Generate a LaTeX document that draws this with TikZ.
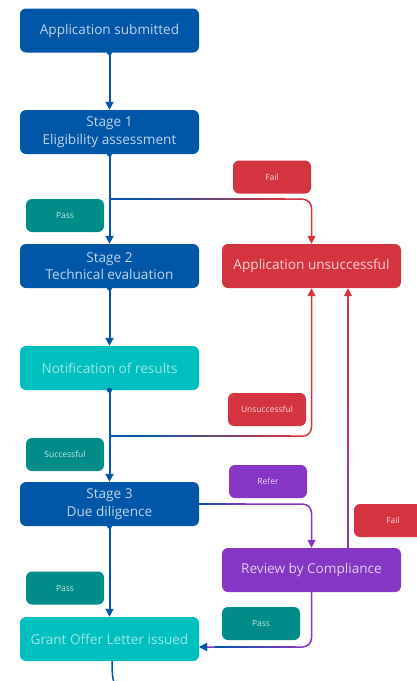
\documentclass[tikz,border=0pt]{standalone}
\usepackage{fontspec}
\setmainfont{Open Sans}
\usetikzlibrary{arrows.meta}
\definecolor{cblue}{HTML}{0057A8}
\definecolor{cred}{HTML}{D3343F}
\definecolor{cteal}{HTML}{008C88}
\definecolor{ccyan}{HTML}{00BFBF}
\definecolor{cpurple}{HTML}{8536C2}
\newcommand\gradH[6]{%
  \foreach \i in {0,...,23}{%
    \pgfmathsetmacro\xa{#1+(#2-#1)*\i/24}%
    \pgfmathsetmacro\xb{#1+(#2-#1)*(\i+1)/24}%
    \pgfmathsetmacro\pc{100*(\i+0.5)/24}%
    \draw[line width=#6, line cap=round, color=#5!\pc!#4] (\xa,#3) -- (\xb,#3);
  }}
\newcommand\gradV[6]{%
  \foreach \i in {0,...,23}{%
    \pgfmathsetmacro\ya{#1+(#2-#1)*\i/24}%
    \pgfmathsetmacro\yb{#1+(#2-#1)*(\i+1)/24}%
    \pgfmathsetmacro\pc{100*(\i+0.5)/24}%
    \draw[line width=#6, line cap=round, color=#5!\pc!#4] (#3,\ya) -- (#3,\yb);
  }}
\begin{document}
\begin{tikzpicture}[x=1pt,y=-1pt,
  box/.style={rounded corners=6pt, minimum width=179pt, minimum height=44pt,
    inner sep=0pt, align=center, font=\fontsize{13.6}{17.5}\selectfont},
  lbl/.style={rounded corners=6pt, minimum width=78pt, minimum height=33pt,
    inner sep=0pt, font=\fontsize{8.5}{10}\selectfont},
  mainline/.style={cblue, line width=2pt},
  thinline/.style={line width=1.5pt},
  tri/.style={-{Triangle[width=8pt,length=8pt]}},
  rc/.style={rounded corners=9pt}]
\useasboundingbox (0,0) rectangle (417,681);
\clip (0,0) rectangle (417,681);

% boxes
\node[box, fill=cblue, text=white!75!cblue] (sub) at (109.5,30.5) {Application submitted};
\node[box, fill=cblue, text=white!75!cblue] (s1) at (109.5,132) {Stage 1\\Eligibility assessment};
\node[box, fill=cblue, text=white!75!cblue] (s2) at (109.5,266) {Stage 2\\Technical evaluation};
\node[box, fill=cred, text=white!78!cred] (unsucc) at (311.5,266) {Application unsuccessful};
\node[box, fill=ccyan, text=white!62!ccyan] (notif) at (109.5,368) {Notification of results};
\node[box, fill=cblue, text=white!75!cblue] (s3) at (109.5,504) {Stage 3\\Due diligence};
\node[box, fill=cpurple, text=white!75!cpurple] (review) at (311.5,570) {Review by Compliance};
\node[box, fill=ccyan, text=white!62!ccyan] (grant) at (109.5,639) {Grant Offer Letter issued};

% labels
\node[lbl, fill=cred, text=white!80!cred] (fail1) at (272,177) {Fail};
\node[lbl, fill=cteal, text=white!78!cteal] (pass1) at (65,215.5) {Pass};
\node[lbl, fill=cred, text=white!80!cred] (uns) at (267,409.5) {Unsuccessful};
\node[lbl, fill=cteal, text=white!78!cteal] (succ) at (65,454.5) {Successful};
\node[lbl, fill=cpurple, text=white!80!cpurple] (refer) at (268,481.5) {Refer};
\node[lbl, fill=cred, text=white!80!cred] (fail2) at (393,520.5) {Fail};
\node[lbl, fill=cteal, text=white!78!cteal] (pass2) at (65,588) {Pass};
\node[lbl, fill=cteal, text=white!78!cteal] (pass3) at (261,623.5) {Pass};

% coordinates
\coordinate (b1) at ([yshift=-45pt]s1.south);
\coordinate (b2) at ([yshift=-46pt]notif.south);
\coordinate (rv) at ([xshift=36.5pt]review.north);
\coordinate (ge) at ([yshift=-8pt]grant.east);
\coordinate (gb) at ([xshift=2.5pt]grant.south);
\coordinate (gend) at ([xshift=7.5pt,yshift=-20pt]grant.south);

% side connectors
\draw[cred, thinline, tri, rc] (b1) -| (unsucc.north);
\gradH{109.5}{135}{199}{cblue}{cblue}{1.5pt}
\gradH{135}{285}{199}{cblue}{cred}{1.5pt}
\draw[cred, thinline, tri, rc] (b2) -| (unsucc.south);
\gradH{109.5}{140}{436}{cblue}{cblue}{1.5pt}
\gradH{140}{290}{436}{cblue}{cred}{1.5pt}
\draw[cpurple, thinline, tri, rc] (s3.east) -| (review.north);
\gradH{199}{245}{504}{cblue}{cpurple}{1.5pt}
\draw[cred, thinline, tri] (rv) -- (rv |- unsucc.south);
\gradV{548}{380}{348}{cpurple}{cred}{1.5pt}
\draw[cpurple, thinline, tri, rc] (review.south) |- (ge);
\gradH{295}{215}{647}{cpurple}{cblue}{1.5pt}
\draw[cblue, thinline, -{Triangle[width=8pt,length=8pt]}] (206,647) -- (ge);

% main flow
\draw[mainline, tri] (sub.south) -- (s1.north);
\draw[mainline, tri] (s1.south) -- (s2.north);
\draw[mainline, tri] (s2.south) -- (notif.north);
\draw[mainline, tri] (notif.south) -- (s3.north);
\draw[mainline, tri] (s3.south) -- (grant.north);
\draw[cblue, thinline] (gb) .. controls ([yshift=-14pt]gb) and ([xshift=-4pt,yshift=-6pt]gend) .. (gend);

% dots
\foreach \n in {sub,s1,s2,notif,s3}{\fill[cblue] (\n.south) circle (2.5pt);}
\end{tikzpicture}
\end{document}
